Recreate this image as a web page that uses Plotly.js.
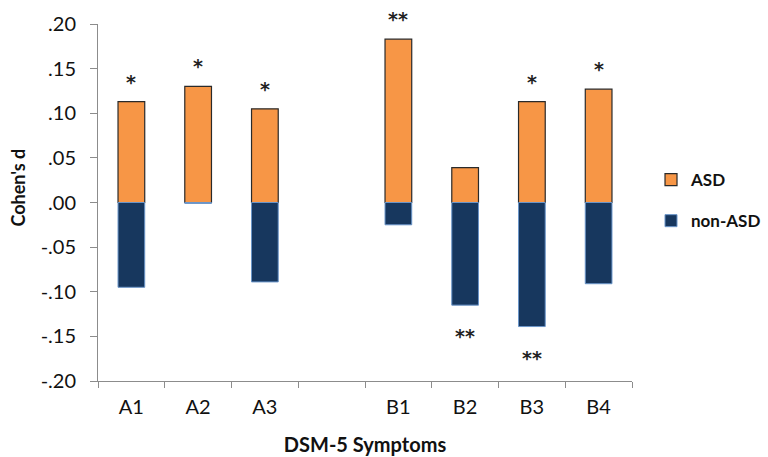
<!DOCTYPE html>
<html>
<head>
<meta charset="utf-8">
<script src="https://cdn.plot.ly/plotly-3.0.1.min.js"></script>
<style>html,body{margin:0;padding:0;background:#fff;}#chart{width:768px;height:457px;}</style>
</head>
<body>
<div id="chart"></div>
<script>
// Categories (blank slot separates the A and B symptom groups)
var categories = ['A1', 'A2', 'A3', ' ', 'B1', 'B2', 'B3', 'B4'];
// Cohen's d values
var asdValues    = [0.113, 0.130, 0.105, null, 0.183, 0.039, 0.113, 0.127];
var nonAsdValues = [-0.095, -0.001, -0.089, null, -0.025, -0.115, -0.139, -0.091];
// Significance markers
var asdSig    = ['*', '*', '*', '', '**', '', '*', '*'];
var nonAsdSig = ['', '', '', '', '', '**', '**', ''];
// Y tick labels
var yTickVals = [0.20, 0.15, 0.10, 0.05, 0.00, -0.05, -0.10, -0.15, -0.20];
var yTickText = ['.20', '.15', '.10', '.05', '.00', '-.05', '-.10', '-.15', '-.20'];

var FONT = 'Lato, "Open Sans", sans-serif';
var STAR_FONT = '"DejaVu Sans", sans-serif';

var traces = [
  {
    type: 'bar', name: 'ASD', x: categories, y: asdValues, legendgroup: 'a',
    marker: {color: '#F79646', line: {color: '#2a2a2a', width: 1.2}},
    hoverinfo: 'x+y'
  },
  {
    type: 'bar', name: 'non-ASD', x: categories, y: nonAsdValues, legendgroup: 'b',
    marker: {color: '#17375E', line: {color: '#6a95c9', width: 1}},
    hoverinfo: 'x+y'
  }
];

var annotations = [];
for (var i = 0; i < categories.length; i++) {
  if (asdSig[i]) {
    annotations.push({x: categories[i], y: asdValues[i], xref: 'x', yref: 'y', text: '<b>' + asdSig[i] + '</b>',
      showarrow: false, yanchor: 'middle', yshift: 20,
      font: {family: STAR_FONT, size: 19, color: '#222'}});
  }
  if (nonAsdSig[i]) {
    annotations.push({x: categories[i], y: nonAsdValues[i], xref: 'x', yref: 'y', text: '<b>' + nonAsdSig[i] + '</b>',
      showarrow: false, yanchor: 'middle', yshift: -31,
      font: {family: STAR_FONT, size: 19, color: '#222'}});
  }
}
annotations.push({
  text: "<b>Cohen's d</b>", xref: 'paper', yref: 'paper', x: -0.149, y: 0.543,
  textangle: -90, showarrow: false, xanchor: 'center', yanchor: 'middle',
  font: {family: FONT, size: 18, color: '#111'}
});

var layout = {
  width: 768, height: 457,
  margin: {l: 98, r: 136, t: 24, b: 76, autoexpand: false},
  paper_bgcolor: '#fff', plot_bgcolor: '#fff',
  barmode: 'relative', bargap: 0.6,
  font: {family: FONT, color: '#111'},
  showlegend: true,
  legend: {
    x: 1.0356, xanchor: 'left', y: 0.6134, yanchor: 'top',
    traceorder: 'grouped', tracegroupgap: 16,
    font: {family: FONT, size: 17, color: '#111', weight: 'bold'},
    bgcolor: 'rgba(0,0,0,0)'
  },
  xaxis: {
    type: 'category', categoryorder: 'array', categoryarray: categories,
    range: [-0.5, 7.5], fixedrange: true,
    showline: true, linecolor: '#8c8c8c', linewidth: 1,
    ticks: 'outside', tickson: 'boundaries', ticklen: 6, tickcolor: '#8c8c8c',
    ticklabelstandoff: 8,
    showgrid: false, zeroline: false,
    tickfont: {family: FONT, size: 20, color: '#111'},
    title: {text: '<b>DSM-5 Symptoms</b>', standoff: 20, font: {family: FONT, size: 20, color: '#111'}}
  },
  yaxis: {
    range: [-0.2, 0.2], fixedrange: true,
    tickvals: yTickVals, ticktext: yTickText,
    showline: true, linecolor: '#8c8c8c', linewidth: 1,
    ticks: 'outside', ticklen: 7, tickcolor: '#8c8c8c',
    ticklabelstandoff: 10,
    showgrid: false, zeroline: false,
    tickfont: {family: FONT, size: 20, color: '#111'}
  },
  annotations: annotations
};

Plotly.newPlot('chart', traces, layout, {displayModeBar: false, staticPlot: true});
</script>
</body>
</html>
